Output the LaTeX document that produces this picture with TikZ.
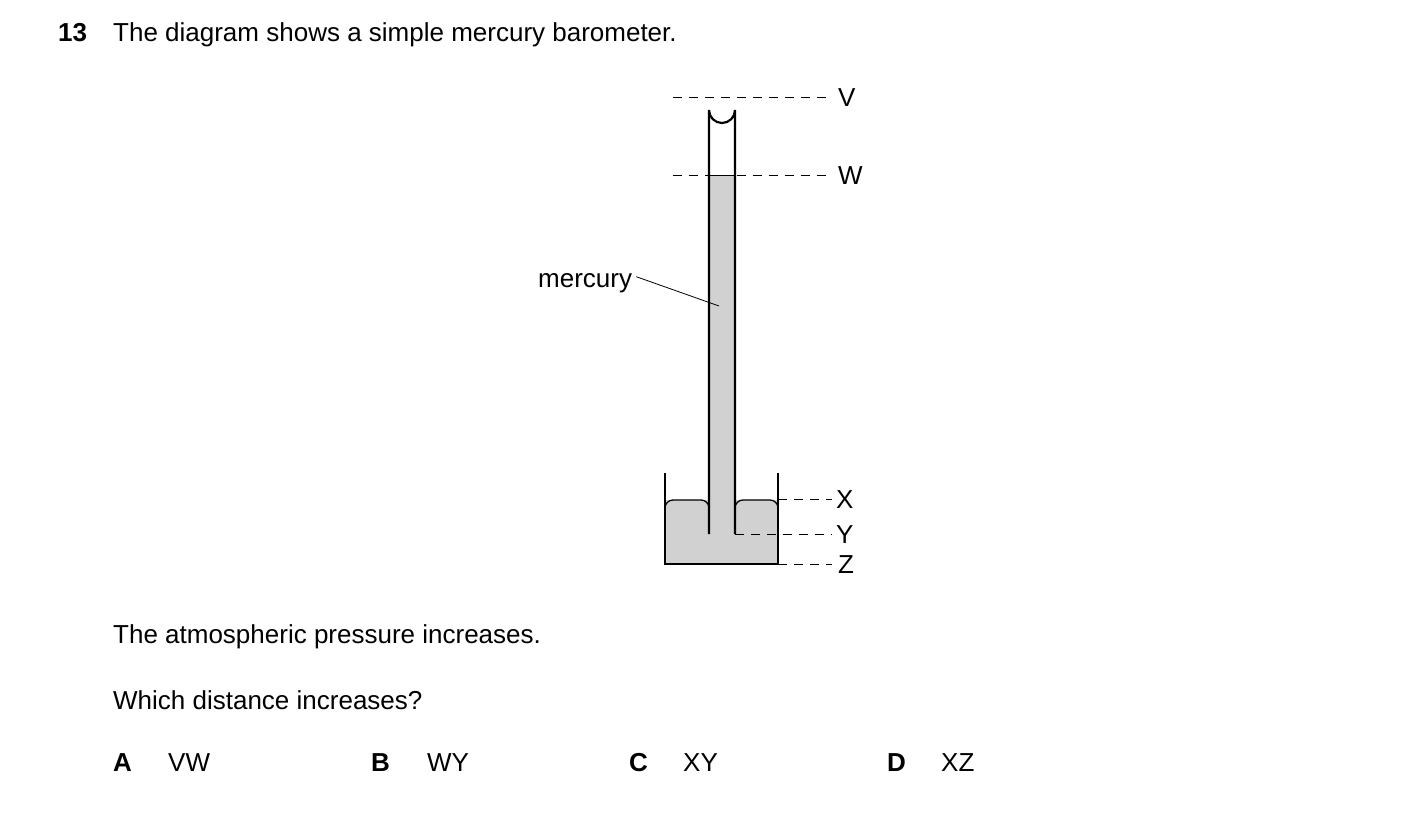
\documentclass[tikz,border=0pt]{standalone}
\usepackage{fontspec}
\setmainfont{Liberation Sans}
\begin{document}
\begin{tikzpicture}[x=1pt,y=-1pt,
  txt/.style={anchor=base west,inner sep=0pt,font=\fontsize{26}{30}\selectfont},
  lvl/.style={dash pattern=on 9pt off 7pt,line width=1pt},
  wall/.style={line width=2.2pt},
  hg/.style={fill=black!18}]
\useasboundingbox (0,0) rectangle (1403,827);
\node[txt,font=\fontsize{26}{30}\selectfont\bfseries] (num) at (58,41) {13};
\node[txt] (q) at (113,41) {The diagram shows a simple mercury barometer.};
\node[txt] (s1) at (113,643) {The atmospheric pressure increases.};
\node[txt] (s2) at (113,709) {Which distance increases?};
\node[txt,font=\fontsize{26}{30}\selectfont\bfseries] (oA) at (113,771) {A};
\node[txt] (tA) at (168,771) {VW};
\node[txt,font=\fontsize{26}{30}\selectfont\bfseries] (oB) at (371,771) {B};
\node[txt] (tB) at (427,771) {WY};
\node[txt,font=\fontsize{26}{30}\selectfont\bfseries] (oC) at (629,771) {C};
\node[txt] (tC) at (683,771) {XY};
\node[txt,font=\fontsize{26}{30}\selectfont\bfseries] (oD) at (887,771) {D};
\node[txt] (tD) at (941,771) {XZ};
% mercury
\fill[hg] (710,175) rectangle (734,534);
\fill[hg] (665,500) rectangle (778,564);
% dashed levels
\coordinate (v1) at (673,97); \coordinate (v2) at (832,97);
\coordinate (w1) at (673,175); \coordinate (w2) at (832,175);
\coordinate (x1) at (778,499); \coordinate (x2) at (832,499);
\coordinate (y1) at (735,534); \coordinate (y2) at (832,534);
\coordinate (z1) at (778,564); \coordinate (z2) at (832,564);
\draw[lvl] (v1)--(v2); \draw[lvl] (w1)--(w2);
\draw[lvl] (x1)--(x2); \draw[lvl] (y1)--(y2); \draw[lvl] (z1)--(z2);
\node[txt] (V) at (838,106) {V};
\node[txt] (W) at (838,184) {W};
\node[txt] (X) at (836,508) {X};
\node[txt] (Y) at (836,543) {Y};
\node[txt] (Z) at (838,573) {Z};
% tube
\fill[white] (710,111) arc[start angle=180,end angle=0,radius=12] -- (734,175) -- (710,175) -- cycle;
\draw[wall] (709,534) -- (709,110) arc[start angle=180,end angle=0,radius=13] -- (735,534);
\draw[line width=0.8pt] (709,175) -- (735,175);
% dish
\draw[wall] (665,473) -- (665,564) -- (778,564) -- (778,473);
\draw[line width=1.3pt] (665,508) to[out=90,in=180] (673,500) -- (701,500) to[out=0,in=90] (709,508);
\draw[line width=1.3pt] (735,508) to[out=90,in=180] (743,500) -- (770,500) to[out=0,in=90] (778,508);
% label
\node[txt] (merc) at (538,287) {mercury};
\coordinate (mp) at (719,306);
\draw[line width=0.8pt] (merc.east) ++(4,-6) -- (mp);
\end{tikzpicture}
\end{document}
